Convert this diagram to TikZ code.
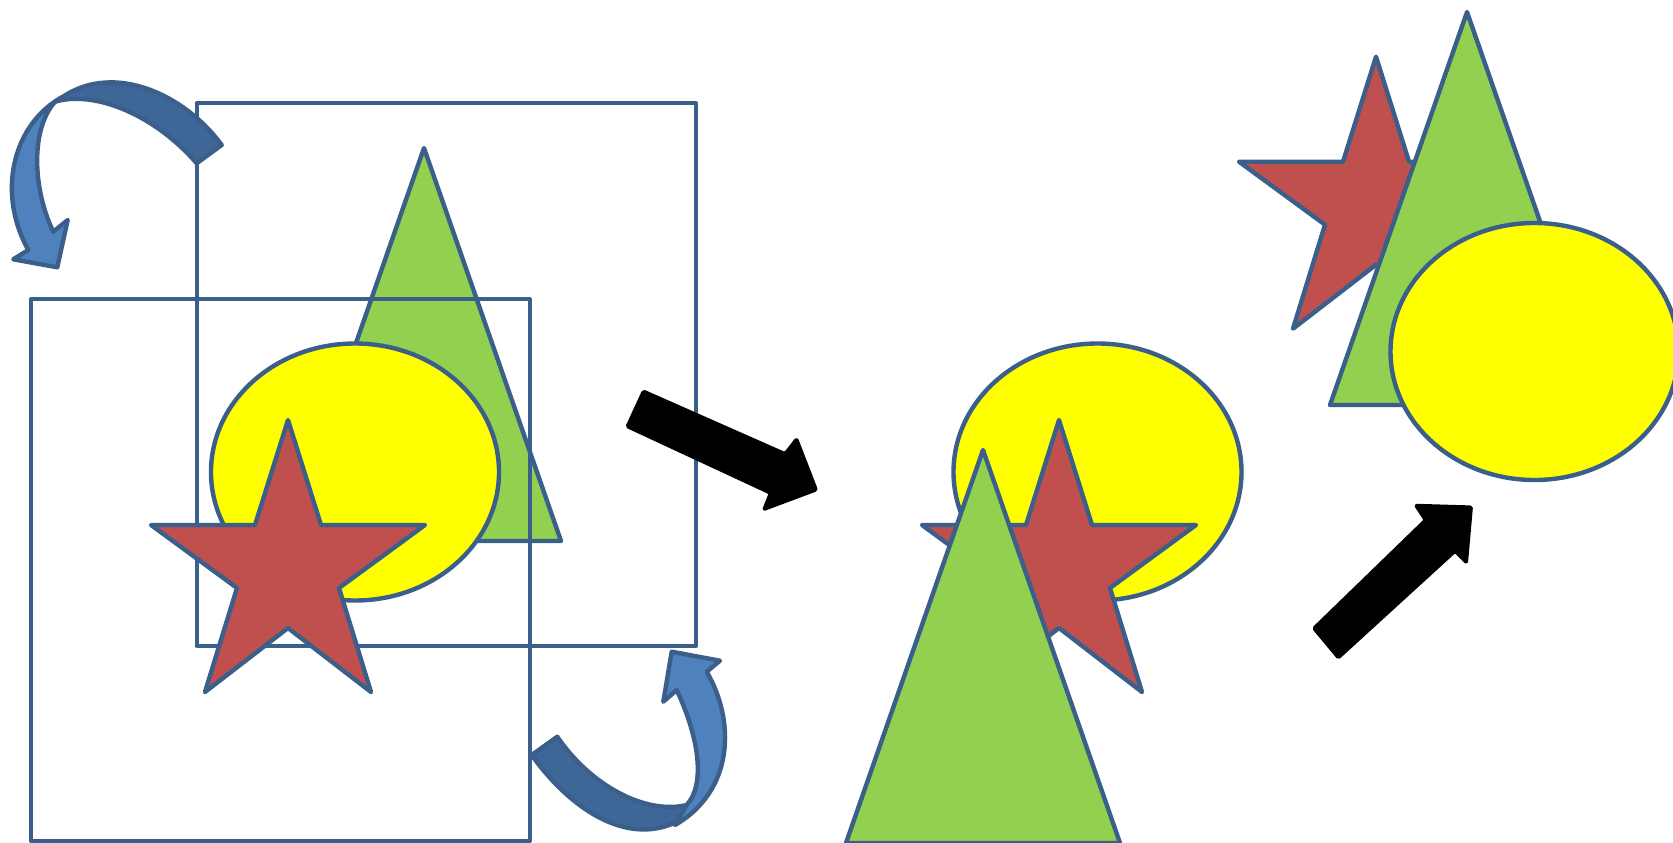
\documentclass[tikz,border=0pt]{standalone}
\begin{document}
\definecolor{outl}{HTML}{3A5F8B}
\definecolor{grn}{HTML}{92D050}
\definecolor{redst}{HTML}{C0504D}
\definecolor{yel}{HTML}{FFFF00}
\definecolor{bandDark}{HTML}{3E6697}
\definecolor{bandLight}{HTML}{4F81BD}
\tikzset{
  shp/.style={draw=outl, line width=4.4pt, line join=round},
  frame/.style={draw=outl, line width=4pt, line join=round},
  blk/.style={fill=black, draw=black, line width=2.5pt, line join=round, rounded corners=1.5pt},
  starpic/.pic={\path[shp, fill=redst] (0,0) -- (33,105) -- (137,105) -- (51,168) -- (83,272) -- (0,208) -- (-83,272) -- (-51,168) -- (-137,105) -- (-33,105) -- cycle;},
  tripic/.pic={\path[shp, fill=grn] (0,0) -- (137,393) -- (-137,393) -- cycle;}
}
\begin{tikzpicture}[x=1pt,y=-1pt]
\useasboundingbox (0,0) rectangle (1673,843);
% ---------- left group ----------
\pic at (424,148) {tripic};
\draw[frame] (196.5,103) rectangle (696,646);
\draw[frame] (30.5,299) rectangle (529.5,841);
\path[shp, fill=yel] (355,472) ellipse [x radius=144pt, y radius=128.5pt];
\pic at (288,420) {starpic};
% curved arrow top-left
\path[shp, fill=bandDark] (221.7,145) .. controls (185,95) and (115,62) .. (63,96.7) -- (55,101.7) .. controls (95,90) and (155,115) .. (196.7,163.3) -- cycle;
\path[shp, fill=bandLight] (63,96.7) .. controls (15,122) and (-5,190) .. (28.3,250) -- (13.3,259.3) -- (57.3,267.3) -- (67.7,220) -- (53.3,231.7) .. controls (33,190) and (30,130) .. (55,101.7) -- cycle;
% curved arrow bottom
\path[shp, fill=bandDark] (531.7,755) .. controls (572,812) and (640,858) .. (696.7,808.3) -- (686.7,805) .. controls (645,815) and (590,785) .. (557.3,736.7) -- cycle;
\path[shp, fill=bandLight] (675,825) .. controls (735,790) and (735,720) .. (706.7,671.7) -- (720,660.7) -- (671.7,651.7) -- (663.3,701.7) -- (676.7,690) .. controls (700,740) and (705,785) .. (686.7,805) -- cycle;
% black arrow 1
\path[blk] (643.3,390.7) -- (785,453.3) -- (796.7,438.3) -- (816.7,490) -- (763.3,510) -- (770,493.3) -- (626.7,426.7) -- cycle;
% ---------- middle group ----------
\path[shp, fill=yel] (1097.5,472) ellipse [x radius=144pt, y radius=128.5pt];
\pic at (1059,420) {starpic};
\pic at (983,450) {tripic};
% black arrow 2
\path[blk] (1313.3,628.3) -- (1338.3,658.3) -- (1455,551.7) -- (1466.7,563.3) -- (1471.7,506.7) -- (1415,505) -- (1425,520) -- cycle;
% ---------- right group ----------
\pic at (1376,56.7) {starpic};
\pic at (1467,12) {tripic};
\path[shp, fill=yel] (1534.5,351.5) ellipse [x radius=144pt, y radius=128.5pt];
\end{tikzpicture}
\end{document}
